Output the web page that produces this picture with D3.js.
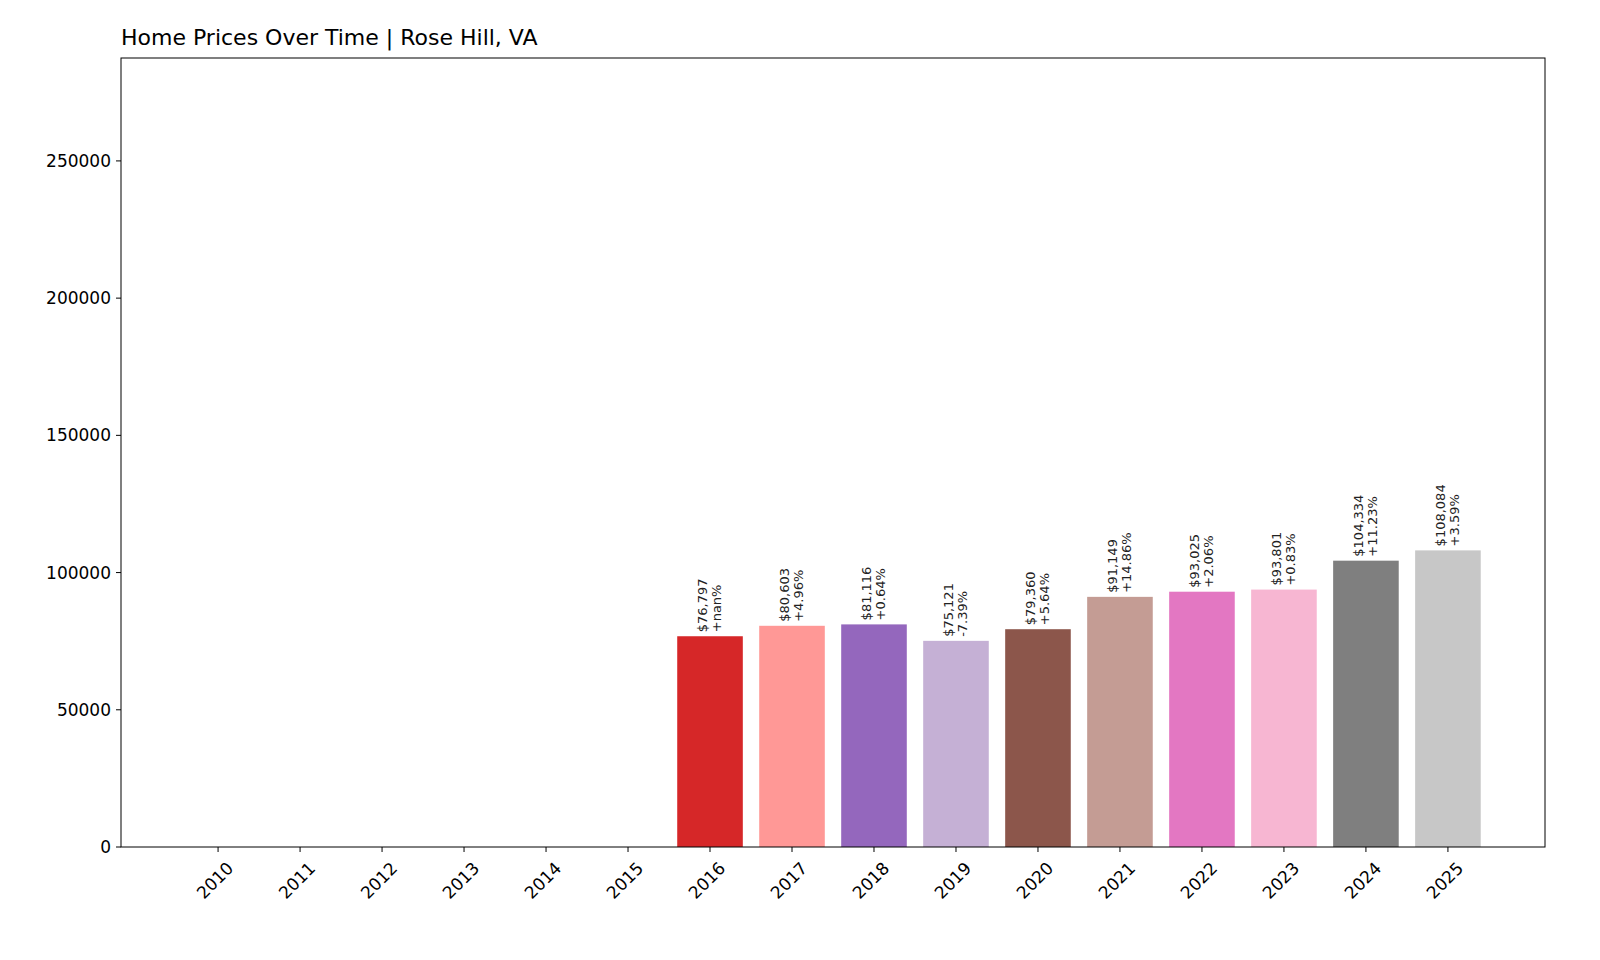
<!DOCTYPE html><html><head><meta charset="utf-8">
<script src="https://cdn.jsdelivr.net/npm/d3@7"></script>
<style>body{margin:0;background:#fff}text{font-family:"DejaVu Sans",sans-serif}</style></head>
<body><svg id="c" width="1600" height="960"></svg><script>
const years=[2010,2011,2012,2013,2014,2015,2016,2017,2018,2019,2020,2021,2022,2023,2024,2025];
const values=[0,0,0,0,0,0,76797,80603,81116,75121,79360,91149,93025,93801,104334,108084];
const changes=[null,null,null,null,null,null,"+nan%","+4.96%","+0.64%","-7.39%","+5.64%","+14.86%","+2.06%","+0.83%","+11.23%","+3.59%"];
const colors=["#1f77b4","#aec7e8","#ff7f0e","#ffbb78","#2ca02c","#98df8a","#d62728","#ff9896","#9467bd","#c5b0d5","#8c564b","#c49c94","#e377c2","#f7b6d2","#7f7f7f","#c7c7c7"];
const yTicks=[0,50000,100000,150000,200000,250000];
const L=121,R=1545,T=58,B=847;
const svg=d3.select("#c");
const x=d3.scaleLinear().domain([-1.184,16.184]).range([L,R]);
const y=d3.scaleLinear().domain([0,287500]).range([B,T]);
const bw=x(0.8)-x(0);
svg.selectAll("rect.b").data(values).enter().append("rect")
 .attr("x",(d,i)=>x(i)-bw/2).attr("width",bw).attr("y",d=>y(d)).attr("height",d=>B-y(d)).attr("fill",(d,i)=>colors[i]);
values.forEach((v,i)=>{if(!changes[i])return;
 const g=svg.append("text").attr("transform",`translate(${x(i)},${y(v)-4}) rotate(-90)`).attr("font-size",13).attr("fill","#222");
 g.append("tspan").attr("x",0).attr("dy","-0.2em").text("$"+d3.format(",")(v));
 g.append("tspan").attr("x",0).attr("dy","1.05em").text(changes[i]);
});
svg.append("rect").attr("x",L).attr("y",T).attr("width",R-L).attr("height",B-T).attr("fill","none").attr("stroke","#000");
yTicks.forEach(t=>{svg.append("line").attr("x1",L-5).attr("x2",L).attr("y1",y(t)).attr("y2",y(t)).attr("stroke","#000");
 svg.append("text").attr("x",L-10).attr("y",y(t)).attr("dy","0.35em").attr("text-anchor","end").attr("font-size",17).text(t);});
years.forEach((yr,i)=>{svg.append("line").attr("x1",x(i)).attr("x2",x(i)).attr("y1",B).attr("y2",B+5).attr("stroke","#000");
 svg.append("text").attr("transform",`translate(${x(i)+8},${B+14}) rotate(-45)`).attr("text-anchor","end").attr("dy","0.7em").attr("font-size",17).text(yr);});
svg.append("text").attr("x",L).attr("y",45).attr("font-size",22).text("Home Prices Over Time | Rose Hill, VA");
</script></body></html>
